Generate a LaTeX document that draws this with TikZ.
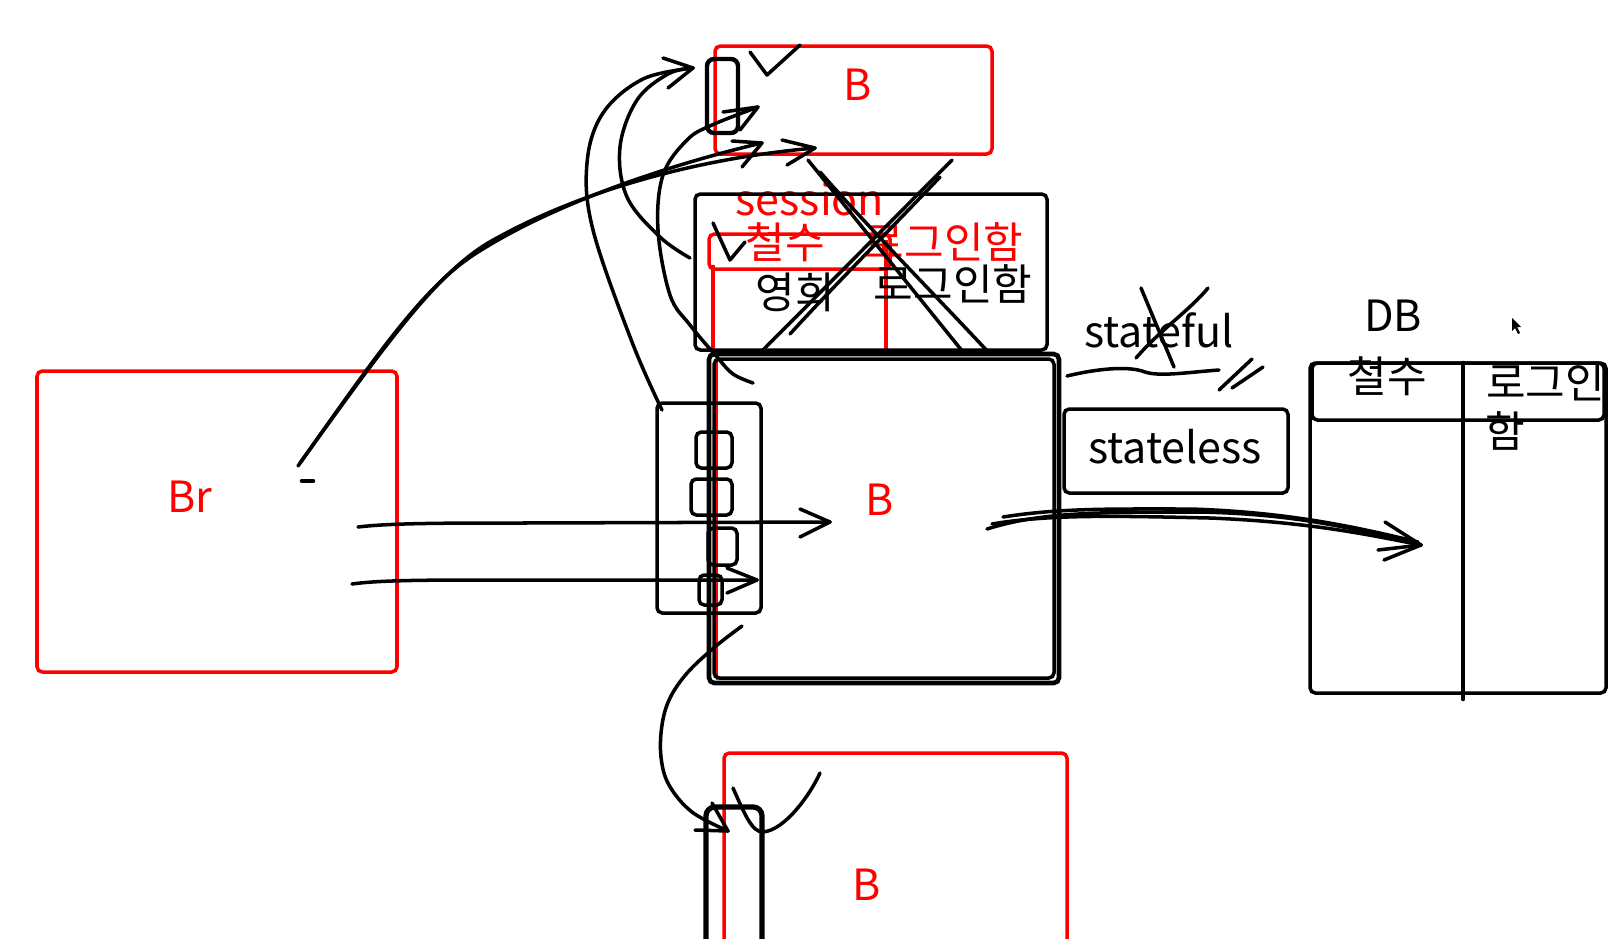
\documentclass[tikz,border=0pt]{standalone}
\usepackage{fontspec}
\newfontfamily\kr{Noto Sans CJK KR}
\begin{document}
\begin{tikzpicture}[x=0.02cm,y=-0.02cm,
  redbox/.style={draw=red, line width=2pt, rounded corners=3pt},
  blkbox/.style={draw=black, line width=2pt, rounded corners=3pt},
  ink/.style={draw=black, line width=2pt, line cap=round, line join=round},
  lbl/.style={font=\kr\fontsize{24.5}{28}\selectfont, inner sep=0pt},
  redlbl/.style={lbl, text=red},
]
\useasboundingbox[fill=white] (0,0) rectangle (1612,938);

% ---------- red boxes ----------
\draw[redbox] (37,371) rectangle (397,672);
\draw[redbox] (715,46) rectangle (992,154);
\draw[redbox] (724,753) rectangle (1067,960);
\draw[draw=red, line width=1pt] (717,360) -- (717,680);
% red table inside session box
\draw[draw=red, line width=2pt, rounded corners=3pt] (709,234) rectangle (890,269);
\draw[draw=red, line width=2pt] (713,265) -- (713,350);
\draw[draw=red, line width=2pt] (886,240) -- (886,350);

% ---------- labels ----------
\node[redlbl] (br) at (190,497) {Br};
\node[redlbl] (btop) at (858,85) {B};
\node[redlbl] (bmid) at (880,500) {B};
\node[redlbl] (bbot) at (867,885) {B};
\node[redlbl, anchor=base] (sess) at (810,215) {session};
\node[redlbl] (cs1) at (785,242) {철수};
\node[redlbl] (lg1) at (944,242) {로그인함};
\node[lbl] (yh) at (795,292) {영희};
\node[lbl] (lg2) at (953,284) {로그인함};
\node[lbl, anchor=base] (sful) at (1159,347) {stateful};
\node[lbl, anchor=base] (sless) at (1175,463) {stateless};
\node[lbl] (db) at (1393,316) {DB};
\node[lbl] (cs2) at (1387,376) {철수};
\node[lbl, anchor=west] (lg3) at (1486,382) {로그인};
\node[lbl] (ham) at (1505,431) {함};

% ---------- black boxes ----------
\draw[blkbox] (695,194) rectangle (1047,350);
\draw[blkbox, line width=2.6pt] (709,354) rectangle (1059,683);
\draw[blkbox] (714,359) rectangle (1054,678);
\draw[blkbox] (657,403) rectangle (761,613);
\draw[blkbox] (696,432) rectangle (732,468);
\draw[blkbox] (691,479) rectangle (732,515);
\draw[blkbox] (708,528) rectangle (737,565);
\draw[blkbox] (699,575) rectangle (722,605);
\draw[blkbox, line width=2.5pt, rounded corners=4pt] (707,59) rectangle (738,133);
\draw[blkbox] (1064,409) rectangle (1288,493);
% DB table
\draw[blkbox] (1310,363) rectangle (1606,693);
\draw[blkbox] (1312,363) rectangle (1604,420);
\draw[ink, line width=2.6pt] (1463,363) -- (1463,699);
% bottom tall box
\draw[ink, line width=3pt, rounded corners=5pt] (706,950) |- (762,807) -- (762,950);

% ---------- strokes from Br ----------
\coordinate (a1s) at (358,527); \coordinate (a1t) at (830,522);
\draw[ink] (a1s) .. controls (390,523) and (450,523) .. (520,523) -- (a1t);
\draw[ink] (800,509) -- (a1t) -- (800,537);
\coordinate (a2s) at (352,584); \coordinate (a2t) at (757,580);
\draw[ink] (a2s) .. controls (380,580) and (430,580) .. (500,580) -- (a2t);
\draw[ink] (727,568) -- (a2t) -- (727,593);

\coordinate (u0) at (298,466);
\coordinate (u1) at (762,143);
\coordinate (u2) at (815,148);
\draw[ink] (u0) .. controls (380,350) and (425,285) .. (478,252) .. controls (560,200) and (680,162) .. (u1);
\draw[ink] (300,463) .. controls (385,345) and (435,275) .. (488,243) .. controls (580,190) and (700,158) .. (u2);
\draw[ink] (732,141) -- (u1) -- (742,167);
\draw[ink] (782,140) -- (u2) -- (787,165);
\draw[ink, line width=2.6pt] (302,481) -- (313,481);

% ---------- curves to the top box ----------
\coordinate (ta) at (693,68);
\draw[ink] plot[smooth, tension=0.6] coordinates {(662,410) (632,342) (593,230) (587,163) (603,113) (643,79) (ta)};
\draw[ink] plot[smooth, tension=0.6] coordinates {(690,258) (660,237) (627,197) (620,147) (637,100) (668,74) (ta)};
\draw[ink] (663,58) -- (ta) -- (668,88);
\coordinate (tc) at (758,107);
\draw[ink] plot[smooth, tension=0.6] coordinates {(753,383) (733,374) (717,357) (690,325) (670,295) (658,230) (663,175) (687,140) (712,125) (tc)};
\draw[ink] (723,112) -- (tc) -- (740,130);

% checkmarks
\draw[ink] (750,52) -- (767,75) -- (800,45);
\draw[ink] (713,223) -- (730,260) -- (745,242);

% big X over session
\draw[ink] (808,160) -- (963,352);
\draw[ink] (820,172) .. controls (880,240) and (940,300) .. (990,354);
\draw[ink] (952,160) -- (759,354);
\draw[ink] (940,177) .. controls (880,240) and (830,290) .. (790,334);

% ---------- stateful marks ----------
\draw[ink] (1141,288) -- (1174,367);
\draw[ink] (1136,358) .. controls (1160,330) and (1190,310) .. (1208,288);
\draw[ink] (1067,376) .. controls (1100,368) and (1130,366) .. (1145,372) .. controls (1160,377) and (1190,372) .. (1219,370);
\draw[ink] (1219,390) -- (1252,359);
\draw[ink] (1232,388) -- (1263,367);

% ---------- arrow to DB ----------
\coordinate (dt) at (1421,545);
\draw[ink] (987,529) .. controls (1040,512) and (1100,512) .. (1200,512) .. controls (1300,514) and (1360,530) .. (dt);
\draw[ink] (992,524) .. controls (1050,514) and (1120,516) .. (1210,518) .. controls (1310,522) and (1370,535) .. (dt);
\draw[ink] (1003,517) .. controls (1060,508) and (1110,509) .. (1190,509) .. controls (1290,512) and (1360,528) .. (1418,542);
\draw[ink] (1385,522) -- (dt) -- (1384,560);
\draw[ink] (1378,550) -- (dt);

% ---------- curve to bottom box ----------
\coordinate (bt) at (728,831);
\draw[ink] plot[smooth, tension=0.6] coordinates {(742,626) (716,646) (688,672) (670,698) (662,725) (661,757) (669,785) (692,812) (bt)};
\draw[ink] (695,830) -- (bt) -- (712,803);
\draw[ink] (733,788) .. controls (745,815) and (752,832) .. (763,832) .. controls (785,830) and (810,795) .. (820,773);

% cursor
\fill[black] (1512,318) -- (1512,331) -- (1515,328) -- (1518,334) -- (1520,333) -- (1517,327) -- (1521,327) -- cycle;
\end{tikzpicture}
\end{document}
